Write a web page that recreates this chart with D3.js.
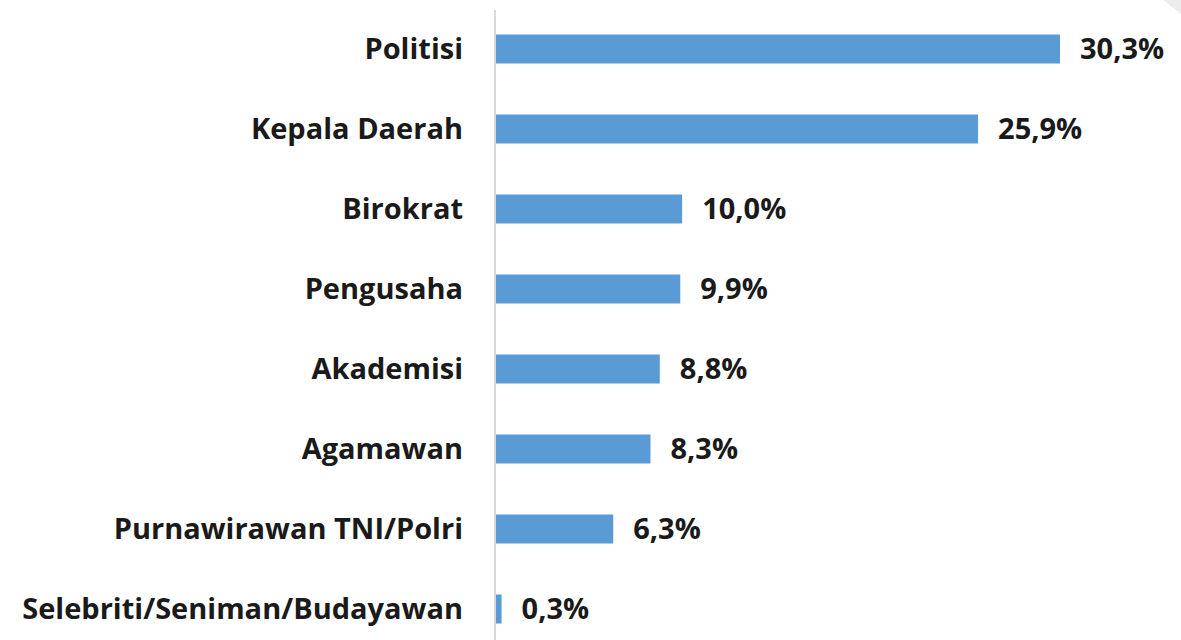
<!DOCTYPE html>
<html>
<head>
<meta charset="utf-8">
<script src="https://cdn.jsdelivr.net/npm/d3@7"></script>
<style>
  body { margin: 0; background: #fff; }
  svg { display: block; }
</style>
</head>
<body>
<div id="chart"></div>
<script>
var categories = ["Politisi", "Kepala Daerah", "Birokrat", "Pengusaha", "Akademisi", "Agamawan", "Purnawirawan TNI/Polri", "Selebriti/Seniman/Budayawan"];
var values = [30.3, 25.9, 10.0, 9.9, 8.8, 8.3, 6.3, 0.3];
var valueLabels = ["30,3%", "25,9%", "10,0%", "9,9%", "8,8%", "8,3%", "6,3%", "0,3%"];

var W = 1181, H = 640,
    axisX = 495;

var svg = d3.select("#chart")
  .append("svg")
    .attr("width", W)
    .attr("height", H);

// faint shadow in the top right corner
svg.append("path")
  .attr("d", "M1163,0 L1181,0 L1181,14 Z")
  .style("fill", "#ececec");

var x = d3.scaleLinear()
  .domain([0, 30.3])
  .range([axisX + 1, 1060]);

var y = d3.scaleBand()
  .domain(categories)
  .range([9, 649])
  .paddingInner(0.6375)
  .paddingOuter(0.31875);

var font = "'Open Sans', 'Segoe UI', sans-serif";

// bars
svg.selectAll(".bar")
  .data(values)
  .enter()
  .append("rect")
    .attr("class", "bar")
    .attr("x", x(0))
    .attr("y", function(d, i) { return y(categories[i]) })
    .attr("width", function(d) { return x(d) - x(0) })
    .attr("height", y.bandwidth())
    .style("fill", "#5b9bd5");

// vertical axis line
svg.append("line")
  .attr("x1", axisX).attr("x2", axisX)
  .attr("y1", 10).attr("y2", H)
  .style("stroke", "#d9d9d9")
  .style("stroke-width", 2);

// category labels
svg.selectAll(".cat")
  .data(categories)
  .enter()
  .append("text")
    .attr("class", "cat")
    .attr("x", 463)
    .attr("y", function(d) { return y(d) + y.bandwidth() / 2 })
    .attr("dy", "0.35em")
    .attr("text-anchor", "end")
    .style("font-family", font)
    .style("font-weight", "bold")
    .style("font-size", "29px")
    .style("fill", "#1a1a1a")
    .text(function(d) { return d });

// value labels
svg.selectAll(".val")
  .data(values)
  .enter()
  .append("text")
    .attr("class", "val")
    .attr("x", function(d) { return x(d) + 20 })
    .attr("y", function(d, i) { return y(categories[i]) + y.bandwidth() / 2 })
    .attr("dy", "0.35em")
    .style("font-family", font)
    .style("font-weight", "bold")
    .style("font-size", "29px")
    .style("fill", "#1a1a1a")
    .text(function(d, i) { return valueLabels[i] });
</script>
</body>
</html>
